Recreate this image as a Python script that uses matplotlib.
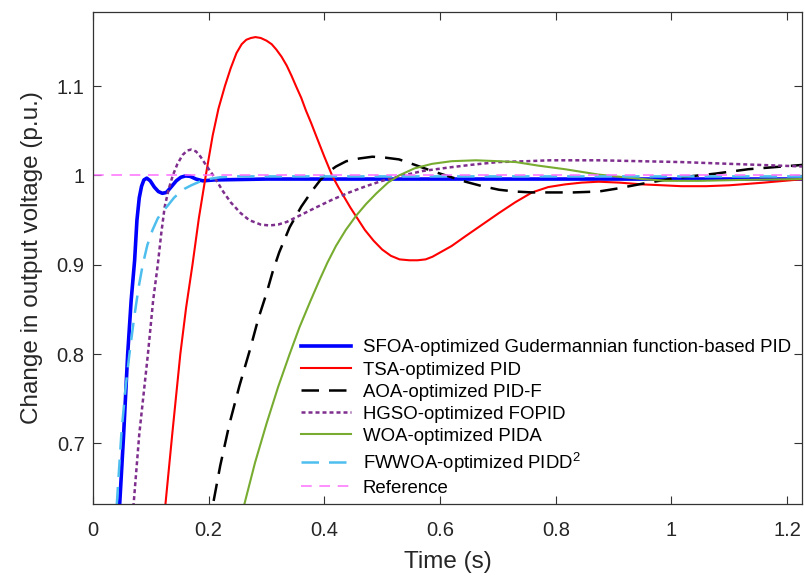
import matplotlib
matplotlib.use('Agg')
import matplotlib.pyplot as plt

plt.rcParams['font.family'] = ['Liberation Sans', 'DejaVu Sans']
plt.rcParams['mathtext.fontset'] = 'custom'
plt.rcParams['mathtext.rm'] = 'Liberation Sans'

# step responses (time in s, output in p.u.)
t_sfoa = [0.040, 0.046, 0.053, 0.060, 0.066, 0.072, 0.076, 0.080, 0.084, 0.088, 0.093,
          0.099, 0.106, 0.113, 0.120, 0.127, 0.135, 0.144, 0.152, 0.160, 0.168, 0.178,
          0.190, 0.210, 0.300, 0.500, 0.800, 1.000, 1.230]
y_sfoa = [0.560, 0.630, 0.710, 0.800, 0.860, 0.905, 0.950, 0.975, 0.988, 0.995, 0.997,
          0.994, 0.987, 0.982, 0.980, 0.981, 0.987, 0.994, 0.998, 0.9995, 0.999, 0.996,
          0.994, 0.995, 0.996, 0.996, 0.996, 0.996, 0.996]

t_tsa = [0.115, 0.125, 0.137, 0.151, 0.161, 0.172, 0.183, 0.195, 0.207, 0.217, 0.228,
         0.238, 0.248, 0.257, 0.265, 0.273, 0.281, 0.290, 0.300, 0.309, 0.317, 0.326,
         0.335, 0.343, 0.351, 0.360, 0.368, 0.377, 0.386, 0.400, 0.414, 0.425, 0.435,
         0.445, 0.455, 0.470, 0.485, 0.500, 0.515, 0.530, 0.547, 0.561, 0.575, 0.587,
         0.598, 0.620, 0.644, 0.673, 0.702, 0.730, 0.759, 0.787, 0.816, 0.845, 0.874,
         0.910, 0.950, 0.985, 1.017, 1.060, 1.100, 1.160, 1.230]
y_tsa = [0.563, 0.630, 0.710, 0.800, 0.852, 0.900, 0.952, 1.000, 1.045, 1.075, 1.100,
         1.120, 1.137, 1.147, 1.152, 1.154, 1.155, 1.154, 1.151, 1.147, 1.141, 1.133,
         1.123, 1.112, 1.100, 1.087, 1.073, 1.059, 1.044, 1.021, 0.999, 0.986, 0.975,
         0.964, 0.954, 0.939, 0.927, 0.917, 0.910, 0.906, 0.905, 0.905, 0.906, 0.909,
         0.913, 0.921, 0.932, 0.945, 0.958, 0.970, 0.981, 0.987, 0.990, 0.992, 0.993,
         0.992, 0.990, 0.989, 0.988, 0.988, 0.989, 0.992, 0.996]

t_aoa = [0.190, 0.207, 0.220, 0.236, 0.253, 0.271, 0.286, 0.300, 0.311, 0.322, 0.340,
         0.360, 0.379, 0.392, 0.405, 0.420, 0.438, 0.460, 0.483, 0.505, 0.529, 0.556,
         0.586, 0.615, 0.644, 0.673, 0.702, 0.730, 0.759, 0.790, 0.830, 0.874, 0.903,
         0.960, 1.017, 1.075, 1.133, 1.230]
y_aoa = [0.575, 0.630, 0.675, 0.722, 0.764, 0.804, 0.840, 0.868, 0.893, 0.914, 0.942,
         0.965, 0.983, 0.994, 1.003, 1.010, 1.016, 1.019, 1.021, 1.020, 1.018, 1.012,
         1.005, 0.999, 0.993, 0.988, 0.984, 0.982, 0.981, 0.981, 0.981, 0.982, 0.985,
         0.992, 0.998, 1.002, 1.007, 1.012]

t_hgso = [0.062, 0.070, 0.080, 0.095, 0.104, 0.112, 0.118, 0.124, 0.131, 0.138, 0.146,
          0.155, 0.163, 0.170, 0.178, 0.186, 0.195, 0.210, 0.225, 0.238, 0.255, 0.270,
          0.290, 0.305, 0.320, 0.335, 0.357, 0.385, 0.414, 0.443, 0.472, 0.500, 0.529,
          0.570, 0.616, 0.655, 0.700, 0.750, 0.790, 0.874, 1.017, 1.230]
y_hgso = [0.566, 0.630, 0.710, 0.800, 0.860, 0.900, 0.935, 0.965, 0.985, 1.000, 1.013,
          1.023, 1.028, 1.029, 1.027, 1.021, 1.012, 0.998, 0.982, 0.970, 0.958, 0.950,
          0.945, 0.944, 0.945, 0.948, 0.955, 0.964, 0.973, 0.981, 0.988, 0.994, 0.999,
          1.005, 1.009, 1.012, 1.015, 1.016, 1.017, 1.017, 1.015, 1.010]

t_woa = [0.240, 0.261, 0.280, 0.300, 0.320, 0.340, 0.357, 0.375, 0.391, 0.405, 0.420,
         0.437, 0.455, 0.472, 0.490, 0.510, 0.529, 0.556, 0.586, 0.620, 0.662, 0.700,
         0.731, 0.770, 0.816, 0.874, 0.903, 0.950, 0.990, 1.050, 1.120, 1.230]
y_woa = [0.580, 0.630, 0.678, 0.722, 0.763, 0.800, 0.830, 0.858, 0.882, 0.902, 0.921,
         0.939, 0.955, 0.968, 0.980, 0.992, 1.000, 1.008, 1.013, 1.016, 1.017, 1.016,
         1.015, 1.011, 1.007, 1.001, 0.999, 0.996, 0.994, 0.994, 0.995, 0.996]

t_fwwoa = [0.035, 0.041, 0.049, 0.056, 0.063, 0.071, 0.079, 0.086, 0.094, 0.103, 0.112,
           0.121, 0.129, 0.140, 0.150, 0.158, 0.170, 0.184, 0.200, 0.220, 0.250, 0.300,
           0.600, 1.000, 1.230]
y_fwwoa = [0.570, 0.630, 0.710, 0.760, 0.800, 0.840, 0.875, 0.900, 0.922, 0.939, 0.952,
           0.960, 0.966, 0.975, 0.981, 0.985, 0.989, 0.993, 0.996, 0.998, 0.999, 0.999,
           0.999, 0.999, 0.999]

t_ref = [0.0, 1.23]
y_ref = [1.0, 1.0]

labels = ['SFOA-optimized Gudermannian function-based PID', 'TSA-optimized PID',
          'AOA-optimized PID-F', 'HGSO-optimized FOPID', 'WOA-optimized PIDA',
          'FWWOA-optimized PIDD$^2$', 'Reference']

fig = plt.figure(figsize=(8.05, 5.76), dpi=100)
ax = fig.add_axes([0.1155, 0.125, 0.881, 0.854])

ax.plot(t_sfoa, y_sfoa, color='#0000ff', lw=2.6, label=labels[0])
ax.plot(t_tsa, y_tsa, color='#ff0000', lw=1.5, label=labels[1])
ax.plot(t_aoa, y_aoa, color='black', lw=1.8, dashes=(7, 4), label=labels[2])
ax.plot(t_hgso, y_hgso, color='#7e2f8e', lw=1.8, dashes=(1.6, 1.2), label=labels[3])
ax.plot(t_woa, y_woa, color='#77ac30', lw=1.5, label=labels[4])
ax.plot(t_fwwoa, y_fwwoa, color='#4dbeee', lw=1.8, dashes=(7, 4), label=labels[5])
ax.plot(t_ref, y_ref, color='#ff70ff', lw=1.1, dashes=(7, 5), label=labels[6])

ax.set_xlim(0, 1.226)
ax.set_ylim(0.632, 1.183)
ax.set_xticks([0, 0.2, 0.4, 0.6, 0.8, 1.0, 1.2])
ax.set_xticklabels(['0', '0.2', '0.4', '0.6', '0.8', '1', '1.2'])
ax.set_yticks([0.7, 0.8, 0.9, 1.0, 1.1])
ax.set_yticklabels(['0.7', '0.8', '0.9', '1', '1.1'])
ax.tick_params(direction='in', top=True, right=True, labelsize=14.5, length=6,
               color='#333333', labelcolor='#262626')
ax.tick_params(axis='x', pad=12)
ax.tick_params(axis='y', pad=6)
for s in ax.spines.values():
    s.set_color('#333333')
    s.set_linewidth(0.9)

ax.set_xlabel('Time (s)', fontsize=17.5, color='#262626', labelpad=8)
ax.set_ylabel('Change in output voltage (p.u.)', fontsize=17.5, color='#262626', labelpad=10)

ax.legend(loc='lower left', bbox_to_anchor=(0.283, 0.0), frameon=False, fontsize=13.4,
          handlelength=2.7, handletextpad=0.6, labelspacing=0.27, borderaxespad=0)

fig.savefig('out.png', dpi=100)
